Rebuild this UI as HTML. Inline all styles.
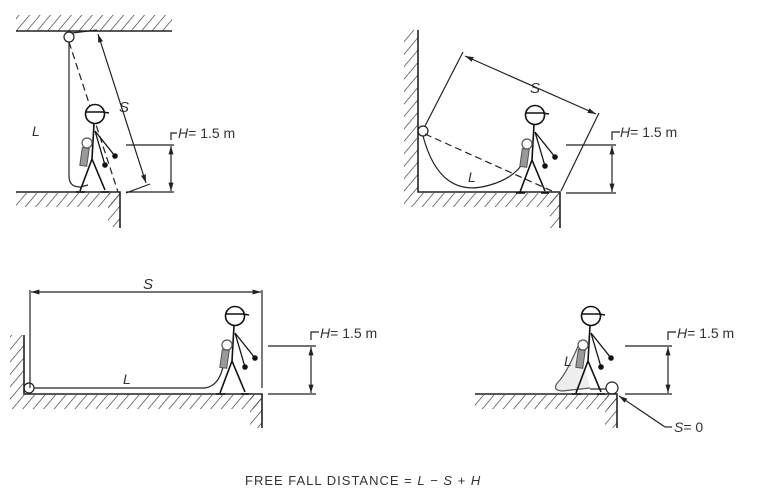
<!DOCTYPE html>
<html><head><meta charset="utf-8"><style>body{margin:0;background:#fff}svg{display:block}text{font-family:"Liberation Sans",sans-serif;fill:#333}</style></head><body>
<svg width="767" height="497" viewBox="0 0 767 497" xmlns="http://www.w3.org/2000/svg">
<defs>
<pattern id="h" width="8" height="8" patternUnits="userSpaceOnUse" patternTransform="rotate(40)"><line x1="0" y1="0" x2="0" y2="8" stroke="#333" stroke-width="1.3"/></pattern>
<marker id="a" viewBox="0 0 10 10" refX="10" refY="5" markerWidth="7" markerHeight="7" orient="auto-start-reverse"><path d="M0,2 L10,5 L0,8 z" fill="#222"/></marker>
<g id="p" stroke="#111" stroke-width="1.6" fill="none">
<circle cx="0" cy="0" r="9.5" fill="#fff"/>
<line x1="-9.5" y1="-2" x2="9.5" y2="-2"/><line x1="8" y1="-2" x2="14" y2="-1"/>
<path d="M-1,9.5 L-3,45 M-3,45 L-15,77 M-19,78 L-10,78 M-3,45 L10,76 M6,78 L14,78"/>
<path d="M0,17 L20,42 M0,17 L10,51" stroke-width="1.3"/>
<circle cx="20" cy="42" r="2" fill="#111"/><circle cx="10" cy="51" r="2" fill="#111"/>
<circle cx="-8" cy="29" r="5" fill="#fff" stroke="#555" stroke-width="1.2"/>
<rect x="-14" y="34" width="7" height="18" fill="#999" stroke="#555" stroke-width="1" transform="rotate(8 -10 43)"/>
</g>
</defs>
<g stroke="#222" stroke-width="1.2" fill="none">
<!-- panel 1 -->
<rect x="16" y="15" width="156" height="16" fill="url(#h)" stroke="none"/>
<line x1="16" y1="31" x2="172" y2="31" stroke-width="1.6"/>
<rect x="16" y="193" width="104" height="14" fill="url(#h)" stroke="none"/>
<rect x="108" y="193" width="12" height="34" fill="url(#h)" stroke="none"/>
<path d="M16,192 L120,192 L120,228" stroke-width="1.6"/>
<circle cx="69" cy="37" r="5"/>
<path d="M69,42 L69,176 Q69,187 80,187 L88,185"/>
<line x1="69" y1="42" x2="118" y2="192" stroke-dasharray="7,4"/>
<line x1="72" y1="33" x2="97" y2="30"/>
<line x1="126" y1="193" x2="150" y2="184"/>
<line x1="98" y1="34" x2="146" y2="183" marker-start="url(#a)" marker-end="url(#a)"/>
<path d="M126,145 L174,145 M126,192 L174,192"/>
<line x1="171" y1="146" x2="171" y2="191" marker-start="url(#a)" marker-end="url(#a)"/>
<path d="M171,140 L171,133 L177,133"/>
<!-- panel 2 -->
<rect x="404" y="30" width="14" height="163" fill="url(#h)" stroke="none"/>
<rect x="404" y="193" width="156" height="14" fill="url(#h)" stroke="none"/>
<rect x="550" y="193" width="10" height="35" fill="url(#h)" stroke="none"/>
<path d="M418,30 L418,192 L560,192 L560,228" stroke-width="1.6"/>
<circle cx="423" cy="131" r="5"/>
<path d="M423,136 Q440,200 490,185 Q515,178 525,160"/>
<line x1="425" y1="134" x2="552" y2="191" stroke-dasharray="7,4"/>
<line x1="425" y1="126" x2="463" y2="52"/>
<line x1="561" y1="191" x2="599" y2="113"/>
<line x1="465" y1="56" x2="596" y2="114" marker-start="url(#a)" marker-end="url(#a)"/>
<path d="M566,145 L616,145 M566,193 L616,193"/>
<line x1="612" y1="146" x2="612" y2="192" marker-start="url(#a)" marker-end="url(#a)"/>
<path d="M612,140 L612,132 L620,132"/>
<!-- panel 3 -->
<rect x="10" y="335" width="14" height="60" fill="url(#h)" stroke="none"/>
<rect x="10" y="395" width="252" height="14" fill="url(#h)" stroke="none"/>
<rect x="250" y="395" width="12" height="33" fill="url(#h)" stroke="none"/>
<path d="M24,335 L24,394 L262,394 L262,428" stroke-width="1.6"/>
<circle cx="29" cy="388" r="5"/>
<path d="M34,388 L205,388 Q220,386 224,362"/>
<path d="M30,290 L30,388 M262,290 L262,388"/>
<line x1="31" y1="292" x2="261" y2="292" marker-start="url(#a)" marker-end="url(#a)"/>
<path d="M268,346 L316,346 M268,394 L316,394"/>
<line x1="311" y1="347" x2="311" y2="393" marker-start="url(#a)" marker-end="url(#a)"/>
<path d="M311,340 L311,332 L319,332"/>
<!-- panel 4 -->
<rect x="475" y="395" width="142" height="14" fill="url(#h)" stroke="none"/>
<rect x="605" y="395" width="12" height="33" fill="url(#h)" stroke="none"/>
<path d="M475,394 L617,394 L617,428" stroke-width="1.6"/>
<path d="M579,344 Q568,370 560,380 Q550,390 562,391 L590,388" stroke="#555" fill="#eee"/>
<circle cx="612" cy="388" r="6"/>
<path d="M590,389 L606,389"/>
<line x1="665" y1="427" x2="619" y2="396" marker-end="url(#a)"/>
<path d="M665,427 L672,427"/>
<path d="M625,346 L672,346 M625,394 L672,394"/>
<line x1="668" y1="347" x2="668" y2="393" marker-start="url(#a)" marker-end="url(#a)"/>
<path d="M668,340 L668,332 L676,332"/>
</g>
<use href="#p" x="95" y="114"/>
<use href="#p" x="535" y="115"/>
<use href="#p" x="235" y="316"/>
<use href="#p" x="591" y="316"/>
<g font-size="14">
<text x="32" y="136" font-style="italic">L</text>
<text x="119" y="112" font-style="italic" font-size="15">S</text>
<text x="178" y="138"><tspan font-style="italic">H</tspan>= 1.5  m</text>
<text x="468" y="182" font-style="italic">L</text>
<text x="530" y="93" font-style="italic" font-size="15">S</text>
<text x="620" y="137"><tspan font-style="italic">H</tspan>= 1.5  m</text>
<text x="123" y="384" font-style="italic">L</text>
<text x="143" y="289" font-style="italic" font-size="15">S</text>
<text x="320" y="338"><tspan font-style="italic">H</tspan>= 1.5  m</text>
<text x="564" y="366" font-style="italic">L</text>
<text x="677" y="338"><tspan font-style="italic">H</tspan>= 1.5  m</text>
<text x="674" y="432"><tspan font-style="italic">S</tspan>= 0</text>
<text x="245" y="485" font-size="13" letter-spacing="1">FREE FALL DISTANCE = <tspan font-style="italic">L</tspan> − <tspan font-style="italic">S</tspan> + <tspan font-style="italic">H</tspan></text>
</g>
</svg>
</body></html>
